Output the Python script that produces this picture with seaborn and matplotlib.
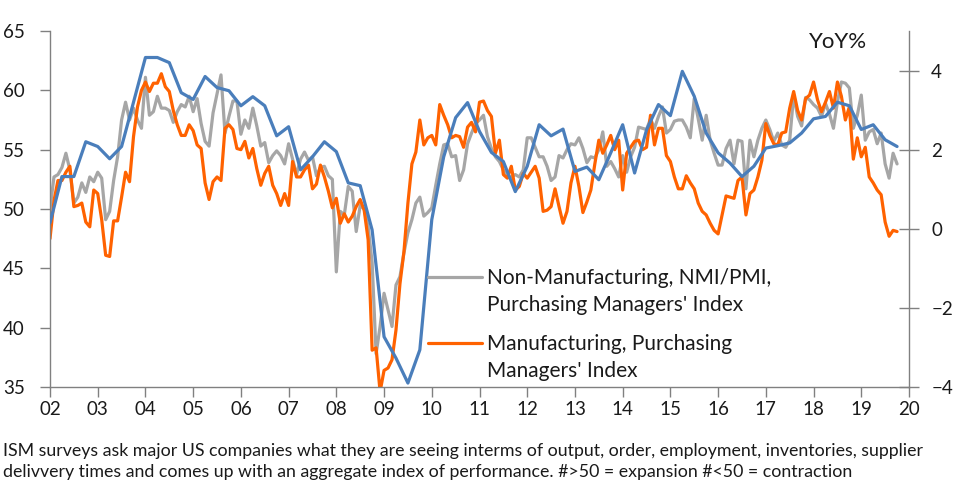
import numpy as np
import pandas as pd
import matplotlib.pyplot as plt
from matplotlib.lines import Line2D
import seaborn as sns

# --- DATA ---
# ISM manufacturing PMI, monthly, Jan 2002 .. Oct 2019
MFG_PMI = [
    47.5, 50.7, 52.4, 52.4, 53.1, 53.6, 50.2, 50.3, 50.5, 48.9, 48.5, 51.6,
    51.3, 49.1, 46.1, 46.0, 49.0, 49.0, 51.0, 53.1, 52.3, 56.1, 58.6, 60.0,
    60.7, 59.9, 60.6, 60.6, 61.4, 60.3, 59.9, 58.3, 57.1, 56.2, 56.2, 57.1,
    56.6, 55.4, 55.1, 52.2, 50.8, 52.3, 52.7, 52.4, 56.8, 57.1, 56.7, 55.1,
    55.0, 55.7, 54.3, 55.1, 53.4, 52.0, 53.0, 53.6, 52.0, 51.3, 50.3, 51.3,
    50.3, 54.0, 52.7, 52.7, 53.3, 53.7, 51.7, 52.1, 53.7, 52.7, 51.5, 50.1,
    50.9, 48.8, 49.6, 48.9, 49.4, 50.2, 50.8, 49.9, 47.4, 38.1, 38.3, 34.6,
    36.4, 36.6, 37.3, 39.8, 43.7, 46.4, 50.5, 53.8, 54.8, 57.5, 55.4, 56.0,
    56.2, 55.4, 58.8, 57.9, 57.1, 56.0, 56.2, 56.1, 55.2, 56.9, 57.3, 56.5,
    59.0, 59.1, 58.3, 57.8, 54.7, 55.8, 52.9, 52.6, 53.6, 51.6, 51.9, 53.0,
    52.6, 53.1, 53.6, 52.6, 49.8, 49.9, 50.2, 51.7, 50.2, 48.8, 49.8, 52.2,
    53.6, 51.9, 49.7, 50.6, 51.6, 53.8, 55.8, 54.7, 55.4, 56.2, 55.0, 55.8,
    51.6, 54.7, 55.2, 55.7, 55.8, 55.0, 55.2, 57.9, 55.4, 56.8, 56.8, 54.5,
    54.0, 52.7, 51.7, 51.7, 52.8, 52.2, 51.7, 50.5, 49.8, 49.5, 48.8, 48.2,
    47.9, 49.5, 51.1, 51.0, 50.9, 52.4, 52.7, 49.5, 51.3, 51.6, 52.7, 54.1,
    57.2, 56.2, 55.5, 55.4, 56.4, 56.5, 58.5, 59.9, 58.3, 57.5, 59.3, 59.6,
    60.7, 59.2, 58.2, 59.0, 59.9, 58.5, 60.7, 59.5, 57.5, 58.6, 54.2, 56.0,
    54.4, 55.2, 52.7, 52.2, 51.6, 51.2, 48.9, 47.7, 48.2, 48.1,
]

# ISM non-manufacturing index, monthly, Jan 2002 .. Oct 2019
NON_MFG = [
    50.0, 52.7, 52.9, 53.5, 54.7, 53.3, 50.5, 51.0, 52.2, 51.4, 52.7, 52.3,
    53.1, 52.6, 49.1, 49.8, 52.4, 54.4, 57.5, 59.0, 57.5, 58.5, 57.5, 56.8,
    61.1, 57.9, 58.2, 59.5, 58.5, 58.5, 58.3, 57.3, 58.2, 58.8, 58.6, 59.5,
    58.2, 59.3, 57.2, 55.7, 55.3, 58.1, 59.7, 61.3, 56.4, 57.8, 59.1, 59.1,
    56.3, 57.5, 56.8, 58.5, 57.0, 55.3, 55.6, 53.9, 54.5, 54.9, 54.5, 53.8,
    55.5, 54.2, 52.9, 54.2, 54.8, 54.1, 54.4, 52.8, 53.5, 53.6, 52.8, 52.5,
    44.7, 49.8, 49.5, 51.9, 51.5, 48.1, 50.3, 50.0, 48.5, 45.5, 37.8, 40.1,
    42.9, 41.5, 40.1, 43.6, 44.3, 46.3, 48.0, 49.1, 50.5, 51.0, 49.4, 49.7,
    50.1, 52.0, 53.8, 55.4, 55.5, 54.4, 54.5, 52.4, 53.3, 55.5, 56.4, 57.2,
    57.5, 57.9, 56.1, 55.1, 54.4, 54.0, 53.3, 52.7, 52.7, 52.9, 52.7, 53.3,
    56.0, 56.0, 55.2, 54.4, 54.4, 53.6, 52.4, 52.7, 54.5, 54.3, 55.0, 55.5,
    55.4, 56.0, 55.1, 53.9, 54.4, 54.3, 55.0, 56.5, 53.6, 54.0, 53.4, 52.7,
    54.5, 53.1, 54.4, 55.2, 56.9, 56.8, 56.7, 57.6, 56.8, 57.8, 58.6, 56.4,
    56.7, 57.4, 57.5, 57.5, 56.9, 56.0, 59.3, 57.6, 55.8, 57.9, 55.8, 54.7,
    53.7, 53.7, 55.1, 55.8, 53.8, 55.8, 55.7, 51.7, 55.8, 54.4, 55.8, 56.8,
    57.5, 56.7, 55.7, 56.4, 55.4, 55.2, 55.8, 59.6, 57.8, 57.0, 59.4, 59.2,
    58.8, 58.5, 57.8, 58.9, 58.0, 56.8, 59.0, 60.7, 60.6, 60.2, 56.8, 57.9,
    59.6, 55.8, 56.5, 56.7, 55.5, 56.4, 53.8, 52.6, 54.7, 53.8,
]

# GDP YoY%, quarterly, right axis, 2002Q1 .. 2019Q4
GDP_YOY = [
    0.15, 1.32, 1.32, 2.20, 2.08, 1.77, 2.08, 3.20,
    4.33, 4.33, 4.20, 3.44, 3.27, 3.85, 3.57, 3.49,
    3.11, 3.34, 3.11, 2.35, 2.58, 1.49, 1.82, 2.20,
    1.95, 1.16, 1.09, -0.03, -2.73, -3.27, -3.90, -3.06,
    0.23, 1.82, 2.81, 3.19, 2.46, 1.93, 1.70, 0.94,
    1.58, 2.63, 2.35, 2.52, 1.45, 1.56, 1.24, 1.92,
    2.63, 1.41, 2.50, 3.14, 2.86, 3.98, 3.35, 2.42,
    1.92, 1.66, 1.32, 1.58, 2.04, 2.10, 2.17, 2.42,
    2.78, 2.84, 3.20, 3.11, 2.51, 2.63, 2.25, 2.08,
]

YEARS = list(range(2002, 2021))
YEAR_LABELS = [f"{y % 100:02d}" for y in YEARS]

LEGEND_LABELS = ["Non-Manufacturing, NMI/PMI,\nPurchasing Managers' Index",
                 "Manufacturing, Purchasing\nManagers' Index"]
FOOTNOTE = ("ISM surveys ask major US companies what they are seeing interms of output, "
            "order, employment, inventories, supplier\n"
            "delivvery times and comes up with an aggregate index of performance. "
            "#>50 = expansion #<50 = contraction")

GRAY = "#a6a6a6"
ORANGE = "#ff6200"
BLUE = "#4a7ebb"
AXIS = "#808080"
TEXT = "#1a1a1a"
# ---------------------

W, H = 954, 492


def fx(px):
    return px / W


def fy(py):
    return 1 - py / H


sns.set_theme(style="ticks")
plt.rcParams["font.family"] = ["Lato", "DejaVu Sans"]

monthly = pd.DataFrame({
    "t": 2002 + np.arange(len(MFG_PMI)) / 12,
    "mfg": MFG_PMI,
    "nonmfg": NON_MFG,
})
quarterly = pd.DataFrame({
    "t": 2002 + np.arange(len(GDP_YOY)) / 4,
    "gdp": GDP_YOY,
})

fig = plt.figure(figsize=(W / 100, H / 100), dpi=100)
ax = fig.add_axes([fx(50), fy(387), fx(909) - fx(50), fy(31) - fy(387)])

sns.lineplot(data=monthly, x="t", y="nonmfg", color=GRAY, lw=2.3, ax=ax)
sns.lineplot(data=monthly, x="t", y="mfg", color=ORANGE, lw=2.3, ax=ax)

ax2 = ax.twinx()
sns.lineplot(data=quarterly, x="t", y="gdp", color=BLUE, lw=2.3, ax=ax2)

ax.set_xlim(2002, 2020)
ax.set_ylim(35, 65)
ax.set_xticks(YEARS)
ax.set_xticklabels(YEAR_LABELS)
ax.set_yticks(range(35, 66, 5))
ax2.set_ylim(-4, 5)
ax2.set_yticks([-4, -2, 0, 2, 4])
for a in (ax, ax2):
    a.set_xlabel("")
    a.set_ylabel("")
    a.spines["top"].set_visible(False)
    for s in a.spines.values():
        s.set_color(AXIS)
        s.set_linewidth(1.0)
ax.spines["right"].set_visible(False)
ax2.spines["left"].set_visible(False)
ax2.spines["bottom"].set_visible(False)

ax.tick_params(axis="x", direction="out", length=7, width=1, color=AXIS,
               labelsize=13.5, labelcolor=TEXT, pad=3)
ax.tick_params(axis="y", direction="out", length=7, width=1, color=AXIS,
               labelsize=13.5, labelcolor=TEXT, pad=11)
ax2.tick_params(axis="y", direction="inout", length=14, width=1, color=AXIS,
                labelsize=13.5, labelcolor=TEXT, pad=9)

fig.text(fx(838), fy(48), "YoY%", fontsize=16, color=TEXT, ha="center", va="baseline")

# legend (gray and orange only), handle aligned with the first text line
for color, label, y0 in [(GRAY, LEGEND_LABELS[0], 277), (ORANGE, LEGEND_LABELS[1], 343)]:
    fig.add_artist(Line2D([fx(428), fx(482)], [fy(y0), fy(y0)], color=color, lw=2.3,
                          transform=fig.transFigure))
    for i, line in enumerate(label.split("\n")):
        fig.text(fx(487), fy(y0 + 7 + 27 * i), line, fontsize=15, color=TEXT,
                 ha="left", va="baseline")

for i, line in enumerate(FOOTNOTE.split("\n")):
    fig.text(fx(3), fy(456 + 21 * i), line, fontsize=12.8, color=TEXT,
             ha="left", va="baseline")

fig.savefig("out.png", dpi=100)
